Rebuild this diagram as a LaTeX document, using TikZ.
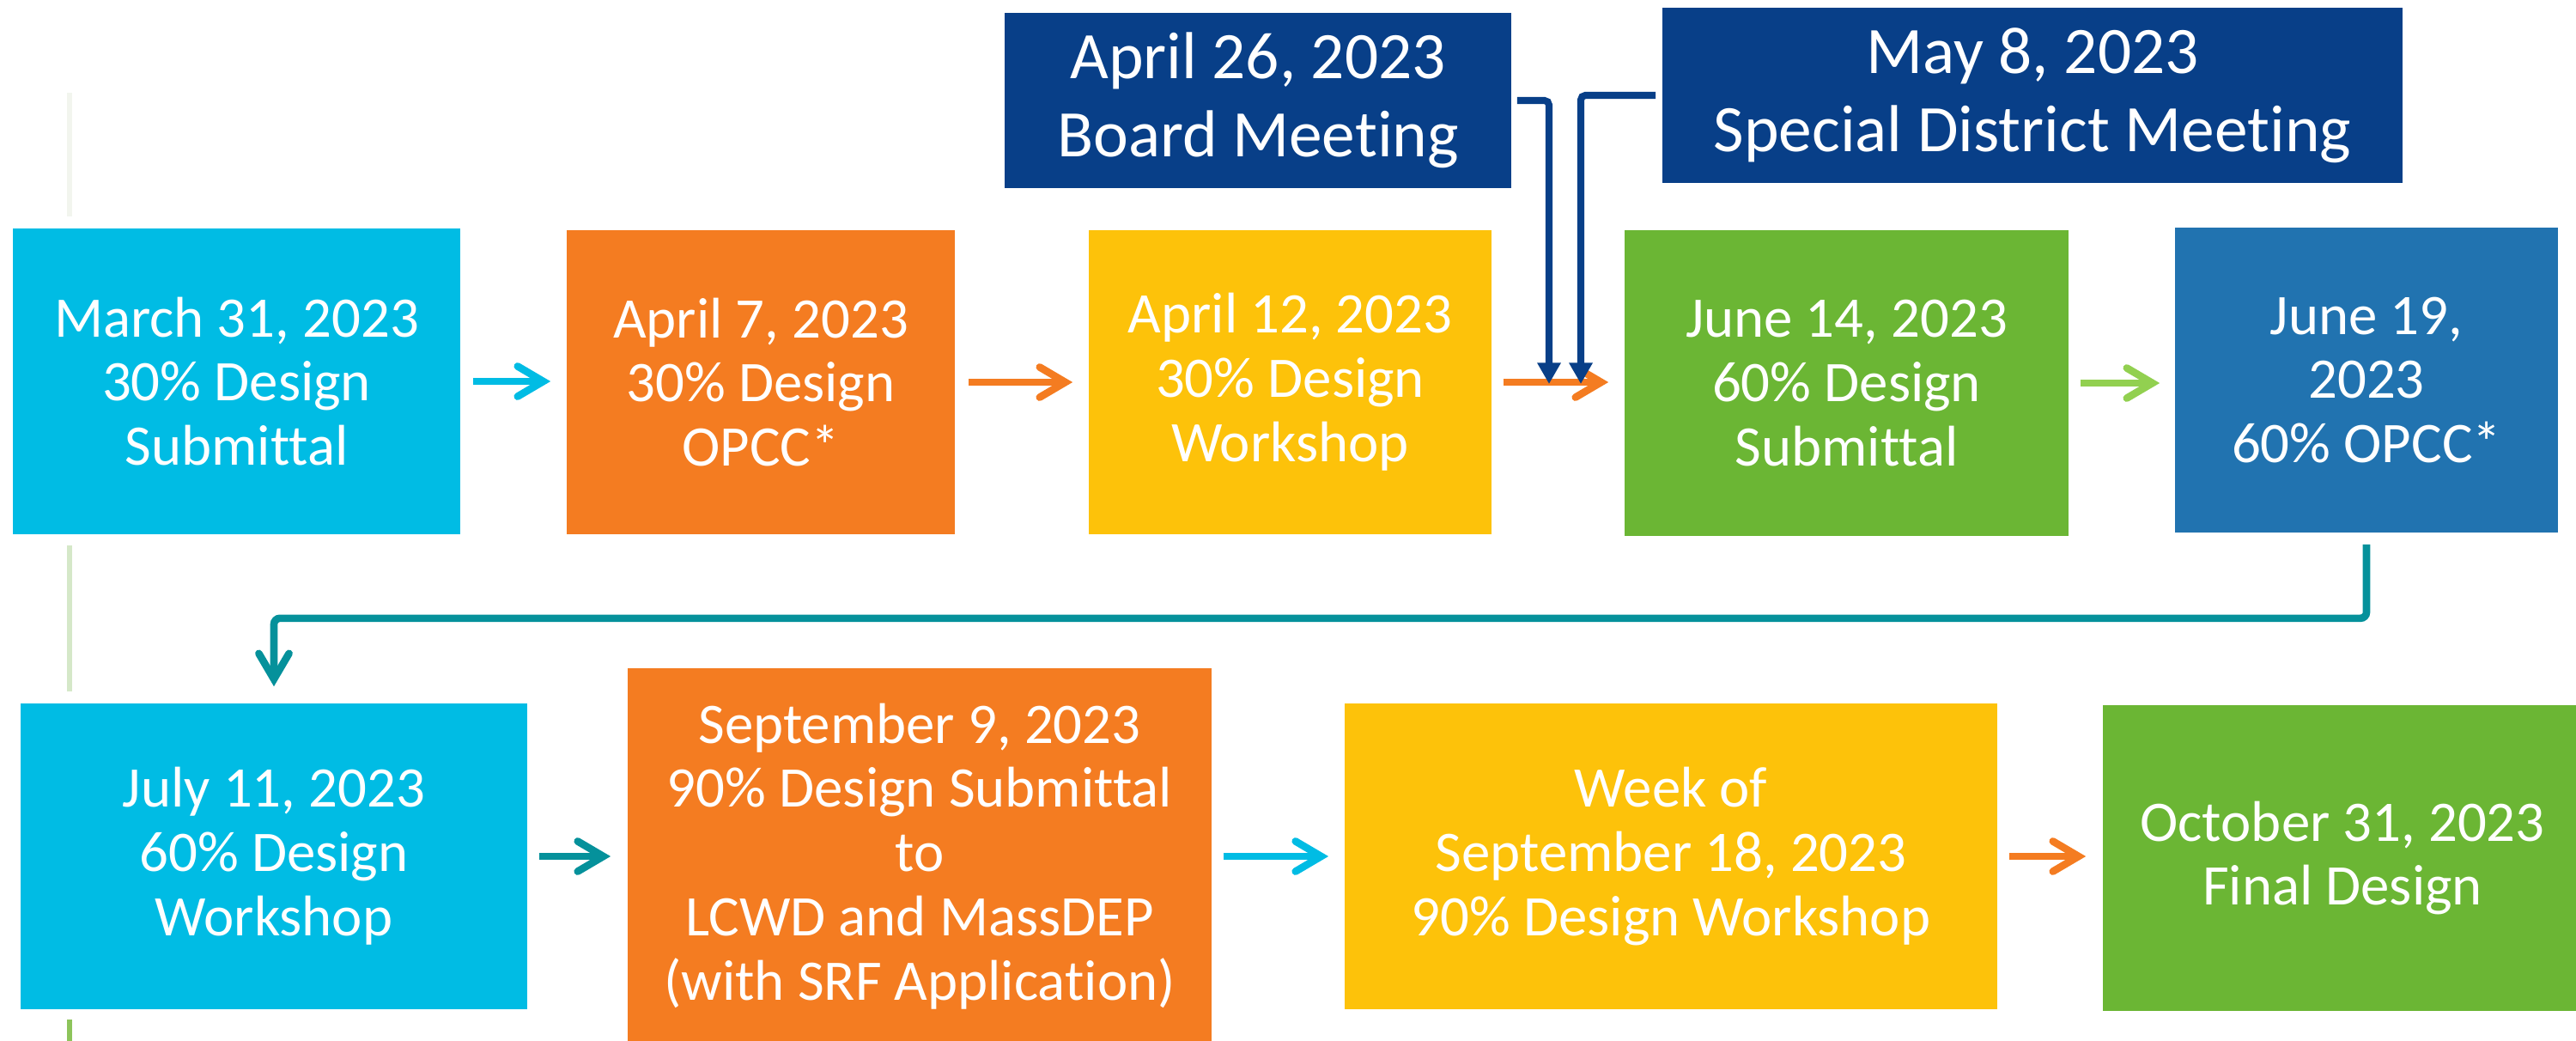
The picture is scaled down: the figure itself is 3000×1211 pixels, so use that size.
\documentclass[tikz,border=0pt]{standalone}
\usepackage{fontspec}
\setmainfont{Carlito}[Ligatures=NoCommon]
\usetikzlibrary{arrows.meta}
\definecolor{cyanB}{HTML}{00BCE4}
\definecolor{orangeB}{HTML}{F47C21}
\definecolor{yellowB}{HTML}{FDC20A}
\definecolor{greenB}{HTML}{6BB634}
\definecolor{navyB}{HTML}{083F88}
\definecolor{midblueB}{HTML}{2173B0}
\definecolor{tealB}{HTML}{05919B}
\definecolor{lgreenA}{HTML}{92D050}
\definecolor{faintA}{HTML}{F2F5EE}
\definecolor{faintB}{HTML}{D5E8C8}
\definecolor{faintC}{HTML}{8DC45B}
\tikzset{
  stepbox/.style={rectangle, inner sep=0pt, text=white, align=center,
    font=\fontsize{19pt}{21.3pt}\selectfont},
  meetbox/.style={rectangle, inner sep=0pt, text=white, align=center, fill=navyB,
    font=\fontsize{22pt}{25.9pt}\selectfont},
  flowarr/.style={line width=2.45pt,
    -{Straight Barb[length=8.5pt,width=10pt,line cap=round,line join=miter]}},
  meetarr/.style={line width=2.3pt, draw=navyB, rounded corners=1.5pt,
    -{Triangle[length=7pt,width=7.4pt]}},
  sideline/.style={line width=1.7pt}
}
\begin{document}
\begin{tikzpicture}[x=0.01cm,y=-0.01cm]
\path[use as bounding box] (0,0) rectangle (3000,1211);
% faint left guide line
\draw[sideline, draw=faintA] (81,108) -- (81,252);
\draw[sideline, draw=faintB] (81,635) -- (81,805);
\draw[sideline, draw=faintC] (81,1187) -- (81,1215);
% top row
\node[stepbox, fill=cyanB, minimum width=5.21cm, minimum height=3.56cm] (b1) at (275.5,444)
  {March 31, 2023\\30\% Design\\Submittal};
\node[stepbox, fill=orangeB, minimum width=4.52cm, minimum height=3.54cm] (b2) at (886,445)
  {April 7, 2023\\30\% Design\\OPCC*};
\node[stepbox, fill=yellowB, minimum width=4.69cm, minimum height=3.54cm] (b3) at (1502.5,445)
  {April 12, 2023\\30\% Design\\Workshop};
\node[stepbox, fill=greenB, minimum width=5.17cm, minimum height=3.56cm] (b4) at (2150.5,446)
  {June 14, 2023\\60\% Design\\Submittal};
\node[stepbox, fill=midblueB, minimum width=4.46cm, minimum height=3.55cm] (b5) at (2756,442.5)
  {June 19,\\2023\\60\% OPCC*};
% meetings
\node[meetbox, minimum width=5.90cm, minimum height=2.04cm] (m1) at (1465,117)
  {April 26, 2023\\Board Meeting};
\node[meetbox, minimum width=8.62cm, minimum height=2.04cm] (m2) at (2367,111)
  {May 8, 2023\\Special District Meeting};
% bottom row
\node[stepbox, fill=cyanB, minimum width=5.90cm, minimum height=3.56cm] (b6) at (319,997)
  {July 11, 2023\\60\% Design\\Workshop};
\node[stepbox, fill=orangeB, minimum width=6.80cm, minimum height=4.38cm] (b7) at (1071,997)
  {September 9, 2023\\90\% Design Submittal\\to\\LCWD and MassDEP\\(with SRF Application)};
\node[stepbox, fill=yellowB, minimum width=7.60cm, minimum height=3.56cm] (b8) at (1946,997)
  {Week of\\September 18, 2023\\90\% Design Workshop};
\node[stepbox, fill=greenB, minimum width=5.58cm, minimum height=3.56cm] (b9) at (2728,999)
  {October 31, 2023\\Final Design};
% top row connectors
\draw[flowarr, draw=cyanB, shorten <=0.14cm, shorten >=0.18cm] (b1.east) -- (b1.east -| b2.west);
\draw[flowarr, draw=orangeB, shorten <=0.15cm, shorten >=0.18cm] (b2.east) -- (b2.east -| b3.west);
\draw[flowarr, draw=orangeB, shorten <=0.13cm, shorten >=0.18cm] (b3.east) -- (b3.east -| b4.west);
\draw[flowarr, draw=lgreenA, shorten <=0.13cm, shorten >=0.17cm] (b4.east) -- (b4.east -| b5.west);
% elbow to second row
\draw[flowarr, draw=tealB, rounded corners=2pt, shorten <=0.13cm, shorten >=0.19cm]
  (b5.south) -- ++(0,99) -| (b6.north);
% bottom row connectors
\draw[flowarr, draw=tealB, shorten <=0.13cm, shorten >=0.19cm] (b6.east) -- (b6.east -| b7.west);
\draw[flowarr, draw=cyanB, shorten <=0.13cm, shorten >=0.18cm] (b7.east) -- (b7.east -| b8.west);
\draw[flowarr, draw=orangeB, shorten <=0.13cm, shorten >=0.19cm] (b8.east) -- (b8.east -| b9.west);
% meeting connectors
\coordinate (t1) at (1804,447);
\coordinate (t2) at (1841,447);
\draw[meetarr, shorten <=0.06cm] (m1.east) -| (t1);
\draw[meetarr, shorten <=0.07cm] (m2.west) -| (t2);
\end{tikzpicture}
\end{document}
